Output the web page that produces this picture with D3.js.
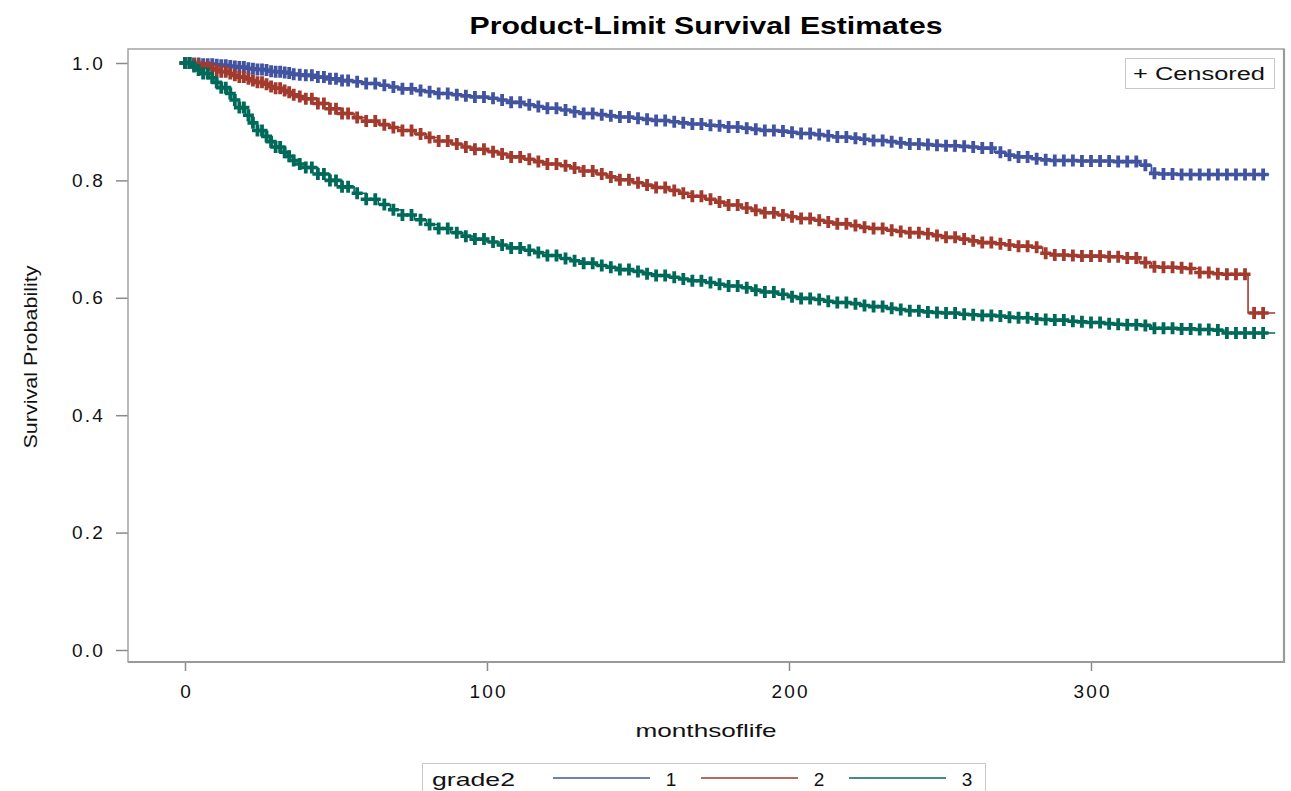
<!DOCTYPE html>
<html>
<head>
<meta charset="utf-8">
<script src="https://cdn.jsdelivr.net/npm/d3@7"></script>
<style>
  body { margin: 0; background: #fff; }
  svg { display: block; }
</style>
</head>
<body>
<svg id="chart" width="1291" height="791"></svg>
<script>
// ---- data ----
// survival estimate (step function) at these times
const times = [0,2,4,6,8,10,12,14,16,18,20,22,24,26,28,30,32,34,36,38,40,44,48,52,56,60,64,68,72,76,80,84,88,92,96,
  100,104,108,112,116,120,124,128,132,136,140,144,148,152,156,160,164,168,172,176,180,184,188,192,196,
  200,204,208,212,216,220,224,228,232,236,240,244,248,252,256,260,264,268,272,276,280,284,288,292,296,
  300,304,308,312,316,320,324,328,332,336,340,344,348,352,356];

const grade1 = [1.000,0.999,0.999,0.998,0.998,0.997,0.996,0.995,0.994,0.993,0.991,0.990,0.989,0.988,0.986,0.985,0.984,0.983,0.981,0.980,
  0.979,0.976,0.973,0.970,0.968,0.965,0.962,0.959,0.956,0.953,0.951,0.948,0.946,0.944,0.942,
  0.940,0.937,0.933,0.929,0.926,0.923,0.920,0.917,0.914,0.912,0.910,0.908,0.906,0.904,0.902,0.900,0.898,0.896,0.894,0.893,0.891,0.889,0.887,0.885,0.884,
  0.882,0.880,0.878,0.876,0.874,0.872,0.870,0.868,0.866,0.864,0.862,0.861,0.860,0.859,0.858,0.857,0.855,0.848,0.843,0.840,0.837,0.835,0.834,0.834,0.833,
  0.833,0.833,0.832,0.832,0.826,0.812,0.811,0.810,0.810,0.810,0.810,0.810,0.810,0.810,0.810];

const grade2 = [1.000,0.998,0.996,0.993,0.990,0.988,0.985,0.982,0.979,0.976,0.973,0.970,0.967,0.964,0.960,0.957,0.953,0.950,0.946,0.943,
  0.939,0.931,0.922,0.914,0.907,0.901,0.895,0.890,0.885,0.879,0.873,0.867,0.862,0.857,0.853,
  0.849,0.845,0.840,0.836,0.832,0.828,0.825,0.821,0.816,0.811,0.806,0.801,0.796,0.792,0.788,0.783,0.778,0.773,0.768,0.763,0.758,0.753,0.749,0.745,0.741,
  0.738,0.735,0.732,0.729,0.726,0.723,0.720,0.718,0.715,0.713,0.711,0.709,0.706,0.703,0.700,0.697,0.694,0.692,0.690,0.688,0.686,0.676,0.673,0.672,0.671,
  0.671,0.670,0.670,0.668,0.660,0.653,0.652,0.651,0.650,0.643,0.641,0.640,0.640,0.574,0.574];

const grade3 = [1.000,0.994,0.988,0.982,0.975,0.967,0.958,0.948,0.937,0.924,0.911,0.898,0.885,0.875,0.866,0.857,0.848,0.841,0.834,0.828,
  0.822,0.811,0.800,0.789,0.778,0.768,0.759,0.750,0.741,0.733,0.725,0.718,0.711,0.705,0.700,
  0.695,0.690,0.685,0.681,0.677,0.672,0.667,0.663,0.659,0.655,0.652,0.648,0.645,0.641,0.638,0.635,0.632,0.629,0.626,0.623,0.620,0.617,0.613,0.610,0.606,
  0.602,0.599,0.597,0.594,0.592,0.590,0.587,0.585,0.582,0.580,0.578,0.576,0.575,0.574,0.572,0.571,0.570,0.569,0.567,0.566,0.564,0.563,0.562,0.560,0.559,
  0.558,0.556,0.555,0.554,0.553,0.548,0.548,0.547,0.547,0.546,0.545,0.540,0.540,0.540,0.540];

// censored observation times (marks sit on the step curve)
const censorTimes = [0,1.5,3,4.5,6,7.5,9,10.5,12,13.5,15,16.5,18,19.5,21,22.5,24,25.5,27,28.5,30,31.5,33,34.5,36,38,40,42,44,46,48,50,52,54,
  57,60,63,66,69,72,75,78,81,84,87,
  90,93,96,99,102,105,108,111,114,117,120,123,126,129,132,135,138,141,144,147,150,153,156,159,162,165,168,171,174,177,
  180,183,186,189,192,195,198,201,204,207,210,213,216,219,222,225,228,231,234,237,240,243,246,249,252,255,258,261,264,267,
  270,273,276,279,282,285,288,291,294,297,300,303,306,309,312,315,318,321,324,327,330,333,336,339,342,345,348,351,354,357];

const endTimes = [359, 361, 361];   // last follow-up time of each group
const groups = ["1", "2", "3"];
const colors = ["#4254a0", "#a23a2d", "#006a5a"];
const xTicks = [0, 100, 200, 300];
const yTicks = [0.0, 0.2, 0.4, 0.6, 0.8, 1.0];

// ---- layout ----
const svg = d3.select("#chart");
const frame = {left: 128, top: 49, right: 1284, bottom: 662};
const x = d3.scaleLinear().domain([0, 300]).range([185, 1091]);
const y = d3.scaleLinear().domain([0, 1]).range([650, 63]);
const FONT = "'Liberation Sans', Arial, sans-serif";

// title
svg.append("text")
  .attr("x", 706).attr("y", 34)
  .attr("text-anchor", "middle")
  .attr("font-family", FONT).attr("font-weight", "bold")
  .attr("font-size", 23).attr("textLength", 473).attr("lengthAdjust", "spacingAndGlyphs")
  .text("Product-Limit Survival Estimates");

// axes
const yAxis = svg.append("g").attr("transform", `translate(${frame.left},0)`)
  .call(d3.axisLeft(y).tickValues(yTicks).tickFormat(d3.format(".1f")).tickSize(12).tickPadding(11));
const xAxis = svg.append("g").attr("transform", `translate(0,${frame.bottom})`)
  .call(d3.axisBottom(x).tickValues(xTicks).tickFormat(d3.format("d")).tickSize(9).tickPadding(14));
[yAxis, xAxis].forEach(g => {
  g.select(".domain").remove();
  g.selectAll(".tick line").attr("stroke", "#8a8a8a").attr("stroke-width", 1.5);
  g.selectAll(".tick text").attr("font-family", FONT).attr("font-size", 19)
    .attr("letter-spacing", 2.2).attr("fill", "#111");
});
xAxis.selectAll(".tick text").attr("dx", 1.1);

// frame
svg.append("rect")
  .attr("x", frame.left).attr("y", frame.top)
  .attr("width", frame.right - frame.left).attr("height", frame.bottom - frame.top)
  .attr("fill", "none").attr("stroke", "#a4a4a4").attr("stroke-width", 1.5);
svg.append("path")
  .attr("d", `M${frame.right},${frame.top}V${frame.bottom}H${frame.left}`)
  .attr("fill", "none").attr("stroke", "#9a9a9a").attr("stroke-width", 2.2);

// axis labels
svg.append("text")
  .attr("x", 706).attr("y", 737).attr("text-anchor", "middle")
  .attr("font-family", FONT).attr("font-size", 19).attr("textLength", 141)
  .attr("lengthAdjust", "spacingAndGlyphs")
  .attr("fill", "#111").text("monthsoflife");
svg.append("text")
  .attr("transform", "translate(37,357) rotate(-90)").attr("text-anchor", "middle")
  .attr("font-family", FONT).attr("font-size", 19).attr("textLength", 183)
  .attr("lengthAdjust", "spacingAndGlyphs")
  .attr("fill", "#111").text("Survival Probability");

// curves
const plot = svg.append("g");
const line = d3.line().x(d => x(d[0])).y(d => y(d[1])).curve(d3.curveStepAfter);
// censor mark: plus with a thick vertical bar
const plus = "M-5.5,-1.8H5.5V1.8H-5.5Z M-1.9,-6H1.9V6H-1.9Z";
const bis = d3.bisector(d => d).right;
[grade1, grade2, grade3].forEach((vals, i) => {
  const pts = times.map((t, j) => [t, vals[j]]);
  const linePts = pts.concat([[endTimes[i], vals[vals.length - 1]]]);
  plot.append("path").datum(linePts)
    .attr("d", line).attr("fill", "none")
    .attr("stroke", colors[i]).attr("stroke-width", 1.6);
  const marks = censorTimes.filter(c => c <= endTimes[i])
    .map(c => [c, vals[Math.max(0, bis(times, c) - 1)]]);
  plot.append("g").selectAll("path").data(marks).join("path")
    .attr("transform", d => `translate(${x(d[0])},${y(d[1])})`)
    .attr("d", plus).attr("fill", colors[i]).attr("stroke", "none");
});

// censored legend (inside)
svg.append("rect").attr("x", 1125.5).attr("y", 58.5).attr("width", 149).attr("height", 30)
  .attr("fill", "#fff").attr("stroke", "#c8c8c8").attr("stroke-width", 1);
svg.append("text").attr("x", 1133).attr("y", 80)
  .attr("font-family", FONT).attr("font-size", 18).attr("textLength", 132)
  .attr("lengthAdjust", "spacingAndGlyphs")
  .attr("fill", "#111").text("+ Censored");

// group legend (bottom)
const lg = svg.append("g");
lg.append("rect").attr("x", 422.5).attr("y", 763.5).attr("width", 563).attr("height", 34)
  .attr("fill", "#fff").attr("stroke", "#c8c8c8").attr("stroke-width", 1);
lg.append("text").attr("x", 432).attr("y", 786)
  .attr("font-family", FONT).attr("font-size", 19).attr("textLength", 83)
  .attr("lengthAdjust", "spacingAndGlyphs")
  .attr("fill", "#111").text("grade2");
const legX = [553, 701, 849];
groups.forEach((g, i) => {
  lg.append("line").attr("x1", legX[i]).attr("x2", legX[i] + 97)
    .attr("y1", 778).attr("y2", 778)
    .attr("stroke", colors[i]).attr("stroke-width", 1.5);
  lg.append("text").attr("x", legX[i] + 118).attr("y", 786).attr("text-anchor", "middle")
    .attr("font-family", FONT).attr("font-size", 19)
    .attr("fill", "#111").text(g);
});
</script>
</body>
</html>
